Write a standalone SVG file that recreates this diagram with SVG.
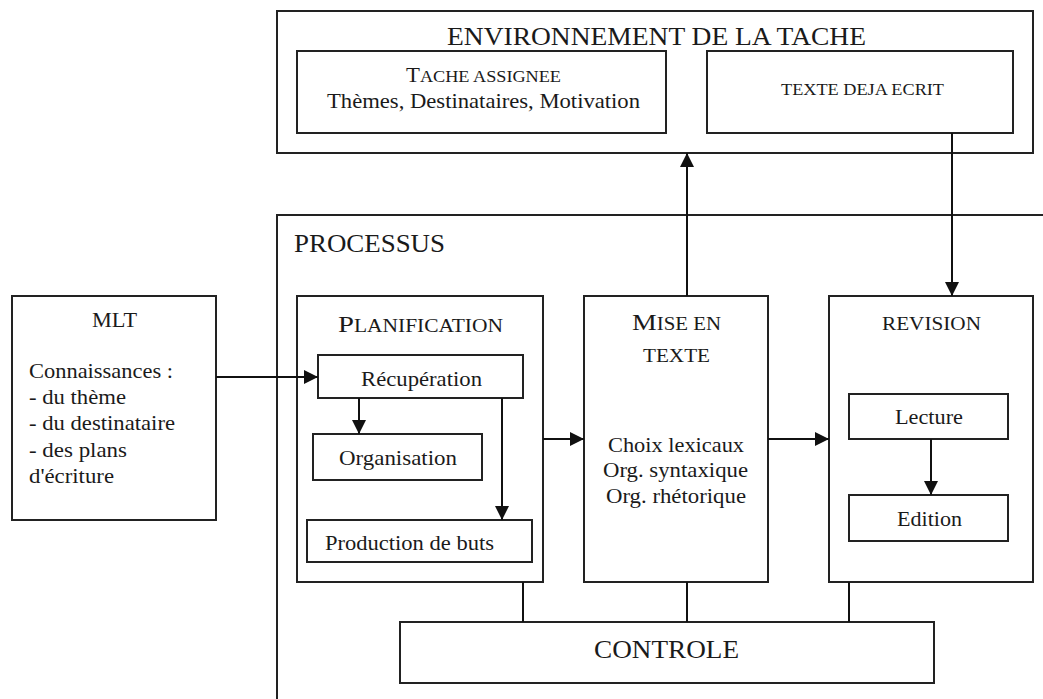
<svg xmlns="http://www.w3.org/2000/svg" width="1043" height="699" viewBox="0 0 1043 699">
<style>
.box{fill:none;stroke:#222;stroke-width:2}
.ln{fill:none;stroke:#111;stroke-width:2}
text{font-family:"Liberation Serif","Times New Roman",serif;fill:#1a1a1a}
</style>
<defs>
<marker id="arr" markerUnits="userSpaceOnUse" markerWidth="14" markerHeight="14" viewBox="0 0 12 12" refX="12" refY="6" orient="auto">
<path d="M0,0 L12,6 L0,12 Z" fill="#111"/>
</marker>
</defs>
<rect width="1043" height="699" fill="#fff"/>

<g id="environnement">
<rect class="box" x="277" y="11" width="756" height="142"/>
<text x="447" y="45" font-size="26" textLength="419" lengthAdjust="spacingAndGlyphs">ENVIRONNEMENT DE LA TACHE</text>
</g>
<g id="tache-assignee">
<rect class="box" x="297" y="51" width="369" height="82"/>
<text x="406" y="82" textLength="155" lengthAdjust="spacingAndGlyphs"><tspan font-size="20">T</tspan><tspan font-size="16">ACHE ASSIGNEE</tspan></text>
<text x="327" y="108" font-size="21" textLength="313" lengthAdjust="spacingAndGlyphs">Thèmes, Destinataires, Motivation</text>
</g>
<g id="texte-deja-ecrit">
<rect class="box" x="707" y="51" width="306" height="82"/>
<text x="781" y="95" font-size="16" textLength="163" lengthAdjust="spacingAndGlyphs">TEXTE DEJA ECRIT</text>
</g>

<g id="processus">
<path class="box" d="M1043,215 H277 V699"/>
<text x="294" y="252" font-size="25" textLength="151" lengthAdjust="spacingAndGlyphs">PROCESSUS</text>
</g>

<g id="mlt">
<rect class="box" x="12" y="296" width="204" height="224"/>
<text x="92" y="327" font-size="21" textLength="45" lengthAdjust="spacingAndGlyphs">MLT</text>
<text x="29" y="378" font-size="22" textLength="144" lengthAdjust="spacingAndGlyphs">Connaissances :</text>
<text x="29" y="404" font-size="22" textLength="97" lengthAdjust="spacingAndGlyphs">- du thème</text>
<text x="29" y="430" font-size="22" textLength="146" lengthAdjust="spacingAndGlyphs">- du destinataire</text>
<text x="29" y="457" font-size="22" textLength="98" lengthAdjust="spacingAndGlyphs">- des plans</text>
<text x="29" y="483" font-size="22" textLength="85" lengthAdjust="spacingAndGlyphs">d'écriture</text>
</g>

<g id="planification">
<rect class="box" x="297" y="296" width="246" height="286"/>
<text x="338" y="332" textLength="165" lengthAdjust="spacingAndGlyphs"><tspan font-size="24">P</tspan><tspan font-size="18">LANIFICATION</tspan></text>
</g>
<g id="recuperation">
<rect class="box" x="318" y="355" width="205" height="43"/>
<text x="361" y="386" font-size="22" textLength="121" lengthAdjust="spacingAndGlyphs">Récupération</text>
</g>
<g id="organisation">
<rect class="box" x="313" y="434" width="169" height="46"/>
<text x="339" y="465" font-size="22" textLength="118" lengthAdjust="spacingAndGlyphs">Organisation</text>
</g>
<g id="production">
<rect class="box" x="307" y="520" width="225" height="42"/>
<text x="325" y="550" font-size="22" textLength="169" lengthAdjust="spacingAndGlyphs">Production de buts</text>
</g>

<g id="mise-en-texte">
<rect class="box" x="584" y="296" width="184" height="286"/>
<text x="632" y="330" textLength="89" lengthAdjust="spacingAndGlyphs"><tspan font-size="24">M</tspan><tspan font-size="18">ISE EN</tspan></text>
<text x="643" y="362" font-size="18" textLength="67" lengthAdjust="spacingAndGlyphs">TEXTE</text>
<text x="608" y="452" font-size="21" textLength="136" lengthAdjust="spacingAndGlyphs">Choix lexicaux</text>
<text x="603" y="477" font-size="21" textLength="145" lengthAdjust="spacingAndGlyphs">Org. syntaxique</text>
<text x="606" y="503" font-size="21" textLength="140" lengthAdjust="spacingAndGlyphs">Org. rhétorique</text>
</g>

<g id="revision">
<rect class="box" x="829" y="296" width="204" height="286"/>
<text x="882" y="330" font-size="18" textLength="99" lengthAdjust="spacingAndGlyphs">REVISION</text>
</g>
<g id="lecture">
<rect class="box" x="849" y="394" width="159" height="45"/>
<text x="895" y="424" font-size="22" textLength="68" lengthAdjust="spacingAndGlyphs">Lecture</text>
</g>
<g id="edition">
<rect class="box" x="849" y="495" width="159" height="46"/>
<text x="897" y="526" font-size="22" textLength="65" lengthAdjust="spacingAndGlyphs">Edition</text>
</g>

<g id="controle">
<rect class="box" x="400" y="622" width="534" height="61"/>
<text x="594" y="658" font-size="25" textLength="145" lengthAdjust="spacingAndGlyphs">CONTROLE</text>
</g>

<g id="connectors">
<line class="ln" x1="216" y1="377" x2="318" y2="377" marker-end="url(#arr)"/>
<line class="ln" x1="359" y1="398" x2="359" y2="434" marker-end="url(#arr)"/>
<line class="ln" x1="502" y1="398" x2="502" y2="520" marker-end="url(#arr)"/>
<line class="ln" x1="543" y1="439" x2="584" y2="439" marker-end="url(#arr)"/>
<line class="ln" x1="768" y1="439" x2="829" y2="439" marker-end="url(#arr)"/>
<line class="ln" x1="931" y1="439" x2="931" y2="495" marker-end="url(#arr)"/>
<line class="ln" x1="687" y1="296" x2="687" y2="153" marker-end="url(#arr)"/>
<line class="ln" x1="952" y1="133" x2="952" y2="296" marker-end="url(#arr)"/>
<line class="ln" x1="523" y1="582" x2="523" y2="622"/>
<line class="ln" x1="687" y1="582" x2="687" y2="622"/>
<line class="ln" x1="849" y1="582" x2="849" y2="622"/>
</g>
</svg>
